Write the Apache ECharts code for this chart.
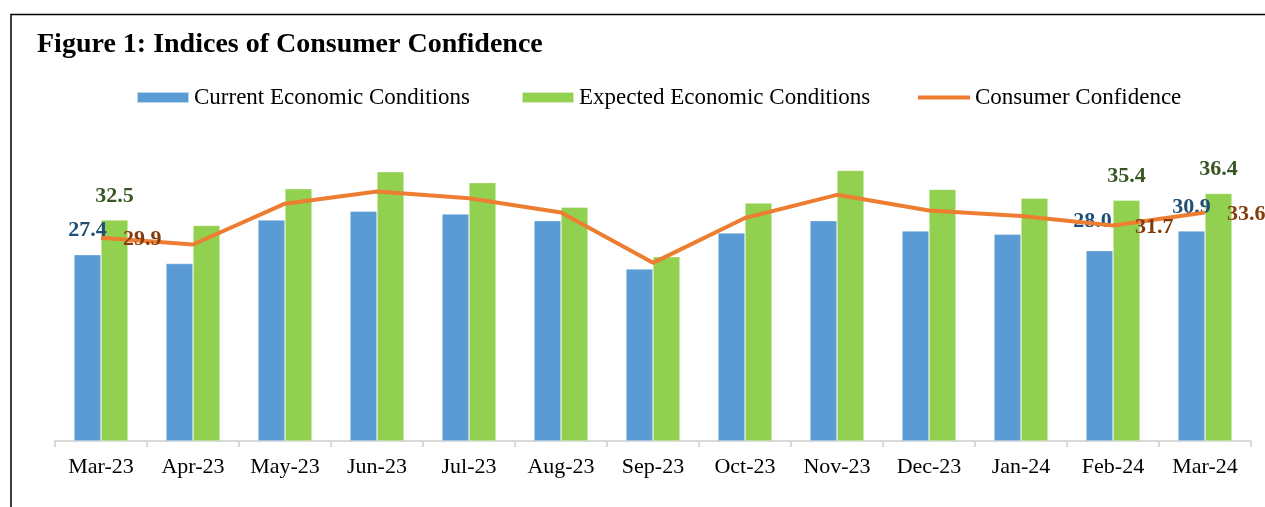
<!DOCTYPE html>
<html>
<head>
<meta charset="utf-8">
<script src="https://cdn.jsdelivr.net/npm/echarts@6/dist/echarts.min.js"></script>
<style>
  html, body { margin: 0; padding: 0; background: #fff; }
  #chart { width: 1265px; height: 507px; }
</style>
</head>
<body>
<div id="chart"></div>
<script>
// months on the x axis
var months = ['Mar-23', 'Apr-23', 'May-23', 'Jun-23', 'Jul-23', 'Aug-23', 'Sep-23',
              'Oct-23', 'Nov-23', 'Dec-23', 'Jan-24', 'Feb-24', 'Mar-24'];
var currentConditions = [27.4, 26.1, 32.5, 33.8, 33.4, 32.4, 25.3, 30.6, 32.4, 30.9, 30.4, 28.0, 30.9];
var expectedConditions = [32.5, 31.7, 37.1, 39.6, 38.0, 34.4, 27.1, 35.0, 39.8, 37.0, 35.7, 35.4, 36.4];
var consumerConfidence = [29.9, 28.9, 34.9, 36.7, 35.7, 33.6, 26.2, 32.8, 36.2, 33.9, 33.1, 31.7, 33.6];
// only these months carry a value label
var labelledMonths = [0, 11, 12];

var serif = '"Palatino Linotype", "Book Antiqua", Palatino, "Liberation Serif", serif';

function withLabels(values, extra) {
    return values.map(function (v, i) {
        var item = { value: v };
        if (labelledMonths.indexOf(i) >= 0) {
            item.label = Object.assign({ show: true }, (extra && extra[i]) || {});
        }
        return item;
    });
}

var myChart = echarts.init(document.getElementById('chart'));

var option = {
    backgroundColor: '#fff',
    animation: false,
    title: {
        text: 'Figure 1: Indices of Consumer Confidence',
        left: 37,
        top: 31,
        padding: 0,
        textStyle: {
            fontFamily: serif,
            fontWeight: 'bold',
            fontSize: 28,
            color: '#000'
        }
    },
    legend: [
        { data: [{ name: 'Current Economic Conditions', icon: 'rect' }], left: 136, top: 86 },
        { data: [{ name: 'Expected Economic Conditions', icon: 'rect' }], left: 521, top: 86 },
        { data: [{ name: 'Consumer Confidence', icon: 'path://M0,0H52V4H0Z' }], left: 918, top: 86 }
    ].map(function (l) {
        return Object.assign(l, {
            itemWidth: 52,
            itemHeight: 11,
            itemGap: 6,
            padding: 0,
            textStyle: { fontFamily: serif, fontSize: 23, color: '#000' }
        });
    }),
    grid: {
        left: 55,
        right: 14,
        top: 135,
        bottom: 66
    },
    xAxis: {
        type: 'category',
        data: months,
        axisLine: { lineStyle: { color: '#D9D9D9', width: 2 } },
        axisTick: { show: true, length: 6, lineStyle: { color: '#D9D9D9', width: 2 } },
        axisLabel: {
            interval: 0,
            margin: 15,
            fontFamily: serif,
            fontSize: 22,
            color: '#000'
        }
    },
    yAxis: {
        type: 'value',
        min: 0,
        max: 45,
        show: false,
        splitLine: { show: false }
    },
    graphic: [{
        type: 'polyline',
        shape: { points: [[11, 520], [11, 14.5], [1280, 14.5]] },
        style: { stroke: '#000', lineWidth: 1.5, fill: null },
        silent: true
    }],
    series: [{
        name: 'Current Economic Conditions',
        type: 'bar',
        data: withLabels(currentConditions, { 11: { offset: [-7, -5] } }),
        barWidth: 27,
        barGap: '0%',
        itemStyle: { color: '#5B9BD5', borderColor: 'rgba(255,255,255,0.6)', borderWidth: 0.6 },
        label: {
            show: false,
            position: 'top',
            distance: 13,
            fontFamily: serif,
            fontWeight: 'bold',
            fontSize: 22,
            color: '#1F4E79',
            formatter: function (p) { return p.value.toFixed(1); }
        }
    }, {
        name: 'Expected Economic Conditions',
        type: 'bar',
        data: withLabels(expectedConditions),
        barWidth: 27,
        barGap: '0%',
        itemStyle: { color: '#92D050', borderColor: 'rgba(255,255,255,0.6)', borderWidth: 0.6 },
        label: {
            show: false,
            position: 'top',
            distance: 13,
            fontFamily: serif,
            fontWeight: 'bold',
            fontSize: 22,
            color: '#375623',
            formatter: function (p) { return p.value.toFixed(1); }
        }
    }, {
        name: 'Consumer Confidence',
        type: 'line',
        data: withLabels(consumerConfidence),
        symbol: 'circle',
        symbolSize: 0.1,
        showSymbol: true,
        z: 2,
        lineStyle: { color: '#ED7D31', width: 4 },
        itemStyle: { color: '#ED7D31' },
        label: {
            show: false,
            position: 'right',
            distance: 22,
            offset: [0, 2],
            fontFamily: serif,
            fontWeight: 'bold',
            fontSize: 22,
            color: '#843C0C',
            formatter: function (p) { return p.value.toFixed(1); }
        }
    }]
};

myChart.setOption(option);
window.addEventListener('resize', function () {
    myChart.resize();
});
</script>
</body>
</html>
